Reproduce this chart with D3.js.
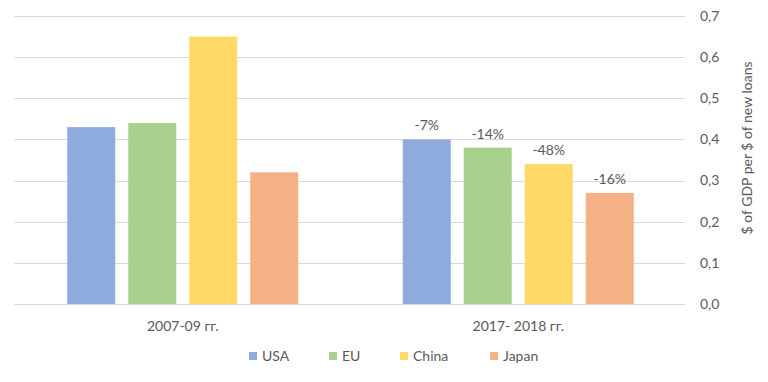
<!DOCTYPE html>
<html><head><meta charset="utf-8">
<script src="https://cdn.jsdelivr.net/npm/d3@7"></script>
<style>body{margin:0;background:#fff}svg text{font-family:Lato,"Open Sans",sans-serif;fill:#595959}</style>
</head><body><svg id="c" width="768" height="382"></svg>
<script>
const categories = ["2007-09 гг.", "2017- 2018 гг."];
const seriesNames = ["USA", "EU", "China", "Japan"];
const USA = [0.43, 0.40];
const EU = [0.44, 0.38];
const China = [0.65, 0.34];
const Japan = [0.32, 0.27];
const changeLabels = [["", "", "", ""], ["-7%", "-14%", "-48%", "-16%"]];
const colors = ["#8faadc", "#a9d18e", "#ffd966", "#f4b183"];
const yTicks = [0, 0.1, 0.2, 0.3, 0.4, 0.5, 0.6, 0.7];
const values = [USA, EU, China, Japan];

(function(){
const svg = d3.select("#c");
const mLeft = 14, mRight = 685, mTop = 16, mBottom = 304;
const y = d3.scaleLinear().domain([0, 0.7]).range([mBottom, mTop]);
const x0 = d3.scaleBand().domain(categories).range([mLeft + 1, mRight + 1]).paddingInner(0).paddingOuter(0);
const groupW = 231;
const x1 = d3.scaleBand().domain(seriesNames)
  .range([(x0.bandwidth()-groupW)/2, (x0.bandwidth()+groupW)/2])
  .paddingInner(13/61).paddingOuter(0);

svg.append("g").selectAll("line").data(yTicks).join("line")
  .attr("x1", mLeft).attr("x2", mRight)
  .attr("y1", d => Math.round(y(d)) + 0.5).attr("y2", d => Math.round(y(d)) + 0.5)
  .attr("stroke", "#d9d9d9").attr("stroke-width", 1);

const fmt = d => d.toFixed(1).replace(".", ",");
svg.append("g").selectAll("text").data(yTicks).join("text")
  .attr("x", 700).attr("y", d => y(d)).attr("dy", "0.35em")
  .attr("font-size", 14).text(fmt);

svg.append("text").attr("transform", "translate(752,148) rotate(-90)")
  .attr("text-anchor", "middle").attr("font-size", 14).text("$ of GDP per $ of new loans");

categories.forEach((cat, ci) => {
  const g = svg.append("g").attr("transform", `translate(${x0(cat)},0)`);
  seriesNames.forEach((s, si) => {
    const v = values[si][ci];
    g.append("rect").attr("x", x1(s)).attr("width", x1.bandwidth())
      .attr("y", y(v)).attr("height", y(0) - y(v)).attr("fill", colors[si]);
    const lab = changeLabels[ci][si];
    if (lab) g.append("text").attr("x", x1(s) + x1.bandwidth()/2).attr("y", y(v) - 9)
      .attr("text-anchor", "middle").attr("font-size", 14).text(lab);
  });
  svg.append("text").attr("x", x0(cat) + x0.bandwidth()/2).attr("y", 331)
    .attr("text-anchor", "middle").attr("font-size", 14).text(cat);
});

const legX = [249, 329, 400, 490];
const leg = svg.append("g");
seriesNames.forEach((s, i) => {
  leg.append("rect").attr("x", legX[i]).attr("y", 352).attr("width", 8).attr("height", 8).attr("fill", colors[i]);
  leg.append("text").attr("x", legX[i] + 13).attr("y", 356).attr("dy", "0.35em").attr("font-size", 14).text(s);
});
})();
</script></body></html>
